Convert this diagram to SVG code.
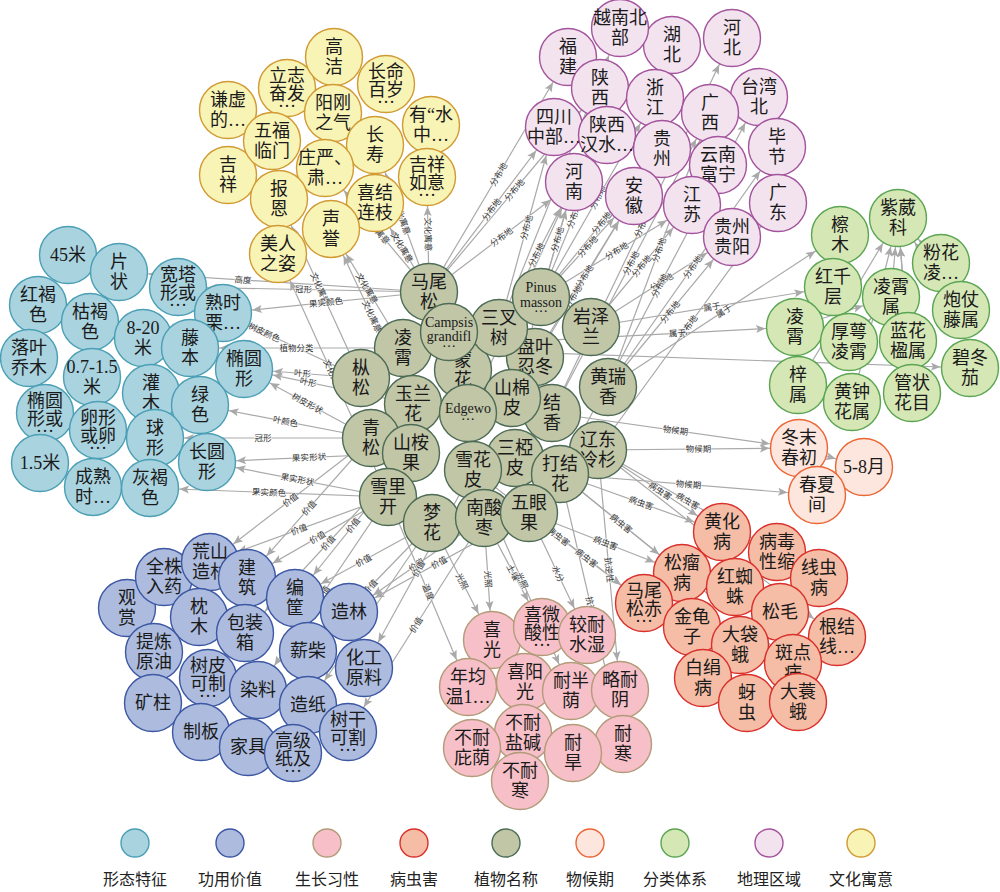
<svg xmlns="http://www.w3.org/2000/svg" width="1000" height="892" viewBox="0 0 1000 892">
<style>
.e{fill:none;stroke:#a9a9a9;stroke-width:1.2}
.ar{marker-end:url(#arw)}
.al{marker-start:url(#arw)}
.el{font-family:"Noto Sans CJK SC",sans-serif;font-size:8.5px;fill:#333;text-anchor:middle;paint-order:stroke;stroke:#fff;stroke-width:1.5px;stroke-opacity:.7}
.t{font-family:"Liberation Serif","Noto Sans CJK SC",serif;font-size:18px;fill:#1a1a1a;text-anchor:middle;dominant-baseline:central}
.t tspan{dominant-baseline:central}
.s{font-size:14px}
circle{stroke-width:1.4}
.c1{fill:#a9d3df;stroke:#4a9fb5}
.c2{fill:#adbcde;stroke:#3c57a3}
.c3{fill:#f7c0c8;stroke:#b39a7a}
.c4{fill:#f5bda6;stroke:#d9302b}
.c5{fill:#c1c6a7;stroke:#4d6b55}
.c6{fill:#fde6dd;stroke:#ec6535}
.c7{fill:#d6e7b6;stroke:#5aa552}
.c8{fill:#f2e3ef;stroke:#a4539d}
.c9{fill:#f8f4b6;stroke:#d19a33}
.lg{font-family:"Noto Sans CJK SC",sans-serif;font-size:16px;fill:#222;text-anchor:middle;dominant-baseline:central}
</style>
<defs>
<marker id="arw" viewBox="-40 -6 40 12" refX="0" refY="0" markerWidth="40" markerHeight="12" markerUnits="userSpaceOnUse" orient="auto-start-reverse">
<path d="M-39,-4 L-29.5,0 L-39,4 L-37,0 Z" fill="#a9a9a9"/>
</marker>
</defs>
<rect width="1000" height="892" fill="#fff"/>
<g id="edges">
<path id="e1" class="e al" d="M427 177 L429 292"/>
<path id="e2" class="e al" d="M375 203 L429 292"/>
<path id="e3" class="e al" d="M331 229 L403 348"/>
<path id="e4" class="e al" d="M279 199 L361 378"/>
<path id="e5" class="e al" d="M325 168 L429 292"/>
<path id="e6" class="e al" d="M375 145 L429 292"/>
<path id="e7" class="e al" d="M278 254 L388 497"/>
<path id="e8" class="e al" d="M331 229 L413 404"/>
<path id="e9" class="e ar" d="M429 292 L554 127"/>
<path id="e10" class="e ar" d="M429 292 L574 182"/>
<path id="e11" class="e ar" d="M429 292 L568 57"/>
<path id="e12" class="e ar" d="M541 297 L574 182"/>
<path id="e13" class="e ar" d="M541 297 L634 196"/>
<path id="e14" class="e ar" d="M541 297 L662 149"/>
<path id="e15" class="e ar" d="M541 297 L607 135"/>
<path id="e16" class="e ar" d="M499 328 L554 127"/>
<path id="e17" class="e ar" d="M591 327 L692 205"/>
<path id="e18" class="e ar" d="M591 327 L732 237"/>
<path id="e19" class="e ar" d="M552 413 L710 113"/>
<path id="e20" class="e ar" d="M608 387 L732 237"/>
<path id="e21" class="e ar" d="M598 450 L778 203"/>
<path id="e22" class="e ar" d="M512 398 L574 182"/>
<path id="e23" class="e ar" d="M535 357 L634 196"/>
<path id="e24" class="e ar" d="M429 292 L600 88"/>
<path id="e25" class="e ar" d="M541 297 L692 205"/>
<path id="e26" class="e ar" d="M552 413 L732 38"/>
<path id="e27" class="e ar" d="M560 474 L759 97"/>
<path id="e28" class="e ar" d="M608 387 L777 147"/>
<path id="e29" class="e ar" d="M499 328 L574 182"/>
<path id="e30" class="e ar" d="M512 398 L634 196"/>
<path id="e31" class="e ar" d="M468 413 L574 182"/>
<path id="e32" class="e ar" d="M499 328 L620 28"/>
<path id="e33" class="e ar" d="M541 297 L655 98"/>
<path id="e34" class="e ar" d="M608 387 L710 113"/>
<path id="e35" class="e ar" d="M608 387 L840 235"/>
<path id="e36" class="e ar" d="M591 327 L833 287"/>
<path id="e37" class="e ar" d="M403 348 L795 327"/>
<path id="e38" class="e ar" d="M403 348 L970 368"/>
<path id="e39" class="e ar" d="M795 327 L891 297"/>
<path id="e40" class="e ar" d="M849 342 L891 297"/>
<path id="e41" class="e ar" d="M891 297 L898 218"/>
<path id="e42" class="e al" d="M898 218 L908 341"/>
<path id="e43" class="e ar" d="M852 402 L898 218"/>
<path id="e44" class="e ar" d="M798 385 L898 218"/>
<path id="e45" class="e al" d="M898 218 L941 263"/>
<path id="e46" class="e al" d="M898 218 L961 310"/>
<path id="e47" class="e al" d="M898 218 L912 393"/>
<path id="e48" class="e ar" d="M598 450 L799 448"/>
<path id="e49" class="e ar" d="M560 474 L817 495"/>
<path id="e50" class="e ar" d="M799 448 L864 467"/>
<path id="e51" class="e ar" d="M552 413 L799 448"/>
<path id="e52" class="e ar" d="M598 450 L722 532"/>
<path id="e53" class="e ar" d="M598 450 L777 552"/>
<path id="e54" class="e ar" d="M560 474 L682 573"/>
<path id="e55" class="e ar" d="M529 513 L644 603"/>
<path id="e56" class="e ar" d="M473 470 L644 603"/>
<path id="e57" class="e ar" d="M529 513 L682 573"/>
<path id="e58" class="e ar" d="M560 474 L722 532"/>
<path id="e59" class="e ar" d="M598 450 L837 637"/>
<path id="e60" class="e ar" d="M560 474 L793 663"/>
<path id="e61" class="e ar" d="M432 523 L492 640"/>
<path id="e62" class="e ar" d="M484 518 L542 627"/>
<path id="e63" class="e ar" d="M529 513 L587 635"/>
<path id="e64" class="e ar" d="M388 497 L468 687"/>
<path id="e65" class="e ar" d="M473 470 L571 691"/>
<path id="e66" class="e ar" d="M598 450 L620 690"/>
<path id="e67" class="e ar" d="M484 518 L492 640"/>
<path id="e68" class="e ar" d="M560 474 L623 744"/>
<path id="e69" class="e al" d="M178 287 L429 292"/>
<path id="e70" class="e al" d="M223 313 L429 292"/>
<path id="e71" class="e al" d="M119 272 L429 292"/>
<path id="e72" class="e al" d="M190 348 L403 348"/>
<path id="e73" class="e al" d="M244 369 L361 378"/>
<path id="e74" class="e al" d="M200 405 L371 438"/>
<path id="e75" class="e al" d="M155 438 L371 438"/>
<path id="e76" class="e al" d="M207 462 L388 497"/>
<path id="e77" class="e al" d="M150 488 L388 497"/>
<path id="e78" class="e al" d="M207 462 L411 453"/>
<path id="e79" class="e al" d="M223 313 L361 378"/>
<path id="e80" class="e al" d="M244 369 L413 404"/>
<path id="e81" class="e al" d="M244 369 L371 438"/>
<path id="e82" class="e al" d="M210 562 L388 497"/>
<path id="e83" class="e al" d="M247 578 L388 497"/>
<path id="e84" class="e al" d="M295 598 L432 523"/>
<path id="e85" class="e al" d="M349 612 L484 518"/>
<path id="e86" class="e al" d="M245 633 L411 453"/>
<path id="e87" class="e al" d="M210 562 L371 438"/>
<path id="e88" class="e al" d="M364 668 L473 470"/>
<path id="e89" class="e al" d="M308 705 L432 523"/>
<path id="e90" class="e al" d="M348 732 L484 518"/>
<path id="e91" class="e al" d="M258 690 L388 497"/>
<path id="e92" class="e al" d="M349 612 L529 513"/>
<path id="e93" class="e al" d="M247 578 L371 438"/>
<path id="e94" class="e al" d="M295 598 L411 453"/>
<path id="e95" class="e al" d="M308 651 L432 523"/>
<text class="el" dy="3"><textPath href="#e1" startOffset="50%">文化寓意</textPath></text>
<text class="el" dy="3"><textPath href="#e2" startOffset="50%">文化寓意</textPath></text>
<text class="el" dy="3"><textPath href="#e3" startOffset="50%">文化寓意</textPath></text>
<text class="el" dy="3"><textPath href="#e4" startOffset="50%">文化寓意</textPath></text>
<text class="el" dy="3"><textPath href="#e5" startOffset="50%">文化寓意</textPath></text>
<text class="el" dy="3"><textPath href="#e6" startOffset="50%">文化寓意</textPath></text>
<text class="el" dy="3"><textPath href="#e7" startOffset="50%">文化寓意</textPath></text>
<text class="el" dy="3"><textPath href="#e8" startOffset="50%">文化寓意</textPath></text>
<text class="el" dy="3"><textPath href="#e9" startOffset="50%">分布地</textPath></text>
<text class="el" dy="3"><textPath href="#e10" startOffset="50%">分布地</textPath></text>
<text class="el" dy="3"><textPath href="#e11" startOffset="50%">分布地</textPath></text>
<text class="el" dy="3"><textPath href="#e12" startOffset="50%">分布地</textPath></text>
<text class="el" dy="3"><textPath href="#e13" startOffset="50%">分布地</textPath></text>
<text class="el" dy="3"><textPath href="#e14" startOffset="50%">分布地</textPath></text>
<text class="el" dy="3"><textPath href="#e15" startOffset="50%">分布地</textPath></text>
<text class="el" dy="3"><textPath href="#e16" startOffset="50%">分布地</textPath></text>
<text class="el" dy="3"><textPath href="#e17" startOffset="50%">分布地</textPath></text>
<text class="el" dy="3"><textPath href="#e18" startOffset="50%">分布地</textPath></text>
<text class="el" dy="3"><textPath href="#e19" startOffset="50%">分布地</textPath></text>
<text class="el" dy="3"><textPath href="#e20" startOffset="50%">分布地</textPath></text>
<text class="el" dy="3"><textPath href="#e21" startOffset="50%">分布地</textPath></text>
<text class="el" dy="3"><textPath href="#e22" startOffset="50%">分布地</textPath></text>
<text class="el" dy="3"><textPath href="#e23" startOffset="50%">分布地</textPath></text>
<text class="el" dy="3"><textPath href="#e24" startOffset="50%">分布地</textPath></text>
<text class="el" dy="3"><textPath href="#e25" startOffset="50%">分布地</textPath></text>
<text class="el" dy="3"><textPath href="#e26" startOffset="50%">分布地</textPath></text>
<text class="el" dy="3"><textPath href="#e27" startOffset="50%">分布地</textPath></text>
<text class="el" dy="3"><textPath href="#e28" startOffset="50%">分布地</textPath></text>
<text class="el" dy="3"><textPath href="#e29" startOffset="50%">分布地</textPath></text>
<text class="el" dy="3"><textPath href="#e30" startOffset="50%">分布地</textPath></text>
<text class="el" dy="3"><textPath href="#e31" startOffset="50%">分布地</textPath></text>
<text class="el" dy="3"><textPath href="#e32" startOffset="50%">分布地</textPath></text>
<text class="el" dy="3"><textPath href="#e33" startOffset="50%">分布地</textPath></text>
<text class="el" dy="3"><textPath href="#e34" startOffset="50%">分布地</textPath></text>
<text class="el" dy="3"><textPath href="#e35" startOffset="50%">属于</textPath></text>
<text class="el" dy="3"><textPath href="#e36" startOffset="50%">属于</textPath></text>
<text class="el" dy="3"><textPath href="#e37" startOffset="70%">属于</textPath></text>
<text class="el" dy="3"><textPath href="#e38" startOffset="70%">属于</textPath></text>
<text class="el" dy="3"><textPath href="#e48" startOffset="50%">物候期</textPath></text>
<text class="el" dy="3"><textPath href="#e49" startOffset="50%">物候期</textPath></text>
<text class="el" dy="3"><textPath href="#e51" startOffset="50%">物候期</textPath></text>
<text class="el" dy="3"><textPath href="#e52" startOffset="50%">病虫害</textPath></text>
<text class="el" dy="3"><textPath href="#e53" startOffset="50%">病虫害</textPath></text>
<text class="el" dy="3"><textPath href="#e54" startOffset="50%">病虫害</textPath></text>
<text class="el" dy="3"><textPath href="#e55" startOffset="50%">病虫害</textPath></text>
<text class="el" dy="3"><textPath href="#e56" startOffset="50%">病虫害</textPath></text>
<text class="el" dy="3"><textPath href="#e57" startOffset="50%">病虫害</textPath></text>
<text class="el" dy="3"><textPath href="#e58" startOffset="50%">病虫害</textPath></text>
<text class="el" dy="3"><textPath href="#e59" startOffset="50%">病虫害</textPath></text>
<text class="el" dy="3"><textPath href="#e60" startOffset="50%">病虫害</textPath></text>
<text class="el" dy="3"><textPath href="#e61" startOffset="50%">光照</textPath></text>
<text class="el" dy="3"><textPath href="#e62" startOffset="50%">土壤</textPath></text>
<text class="el" dy="3"><textPath href="#e63" startOffset="50%">水分</textPath></text>
<text class="el" dy="3"><textPath href="#e64" startOffset="50%">温度</textPath></text>
<text class="el" dy="3"><textPath href="#e65" startOffset="50%">光照</textPath></text>
<text class="el" dy="3"><textPath href="#e66" startOffset="50%">抗逆性</textPath></text>
<text class="el" dy="3"><textPath href="#e67" startOffset="50%">光照</textPath></text>
<text class="el" dy="3"><textPath href="#e68" startOffset="50%">抗逆性</textPath></text>
<text class="el" dy="3"><textPath href="#e69" startOffset="50%">冠形</textPath></text>
<text class="el" dy="3"><textPath href="#e70" startOffset="50%">果实颜色</textPath></text>
<text class="el" dy="3"><textPath href="#e71" startOffset="40%">高度</textPath></text>
<text class="el" dy="3"><textPath href="#e72" startOffset="50%">植物分类</textPath></text>
<text class="el" dy="3"><textPath href="#e73" startOffset="50%">叶形</textPath></text>
<text class="el" dy="3"><textPath href="#e74" startOffset="50%">叶颜色</textPath></text>
<text class="el" dy="3"><textPath href="#e75" startOffset="50%">冠形</textPath></text>
<text class="el" dy="3"><textPath href="#e76" startOffset="50%">果实形状</textPath></text>
<text class="el" dy="3"><textPath href="#e77" startOffset="50%">果实颜色</textPath></text>
<text class="el" dy="3"><textPath href="#e78" startOffset="50%">果实形状</textPath></text>
<text class="el" dy="3"><textPath href="#e79" startOffset="30%">树皮颜色</textPath></text>
<text class="el" dy="3"><textPath href="#e80" startOffset="38%">叶形</textPath></text>
<text class="el" dy="3"><textPath href="#e81" startOffset="50%">树皮形状</textPath></text>
<text class="el" dy="3"><textPath href="#e82" startOffset="50%">价值</textPath></text>
<text class="el" dy="3"><textPath href="#e83" startOffset="50%">价值</textPath></text>
<text class="el" dy="3"><textPath href="#e84" startOffset="50%">价值</textPath></text>
<text class="el" dy="3"><textPath href="#e85" startOffset="50%">价值</textPath></text>
<text class="el" dy="3"><textPath href="#e86" startOffset="50%">价值</textPath></text>
<text class="el" dy="3"><textPath href="#e87" startOffset="50%">价值</textPath></text>
<text class="el" dy="3"><textPath href="#e88" startOffset="50%">价值</textPath></text>
<text class="el" dy="3"><textPath href="#e89" startOffset="50%">价值</textPath></text>
<text class="el" dy="3"><textPath href="#e90" startOffset="50%">价值</textPath></text>
<text class="el" dy="3"><textPath href="#e91" startOffset="50%">价值</textPath></text>
<text class="el" dy="3"><textPath href="#e92" startOffset="50%">价值</textPath></text>
<text class="el" dy="3"><textPath href="#e93" startOffset="50%">价值</textPath></text>
<text class="el" dy="3"><textPath href="#e94" startOffset="50%">价值</textPath></text>
<text class="el" dy="3"><textPath href="#e95" startOffset="50%">价值</textPath></text>
</g>
<g id="nodes">
<g id="y-qianxu"><circle class="c9" cx="228" cy="110" r="28.5"/><text class="t"><tspan x="228" y="100">谦虚</tspan><tspan x="228" y="120">的…</tspan></text></g>
<g id="y-jixiang"><circle class="c9" cx="228" cy="175" r="28.5"/><text class="t"><tspan x="228" y="165">吉</tspan><tspan x="228" y="185">祥</tspan></text></g>
<g id="y-lizhi"><circle class="c9" cx="287" cy="88" r="28.5"/><text class="t"><tspan x="287" y="76">立志</tspan><tspan x="287" y="94">奋发</tspan><tspan x="287" y="101">…</tspan></text></g>
<g id="y-gaojie"><circle class="c9" cx="334" cy="57" r="28.5"/><text class="t"><tspan x="334" y="47">高</tspan><tspan x="334" y="67">洁</tspan></text></g>
<g id="y-changming"><circle class="c9" cx="386" cy="84" r="28.5"/><text class="t"><tspan x="386" y="72">长命</tspan><tspan x="386" y="90">百岁</tspan><tspan x="386" y="97">…</tspan></text></g>
<g id="y-shuizhong"><circle class="c9" cx="431" cy="125" r="28.5"/><text class="t"><tspan x="431" y="115">有“水</tspan><tspan x="431" y="135">中…</tspan></text></g>
<g id="y-wufu"><circle class="c9" cx="272" cy="141" r="28.5"/><text class="t"><tspan x="272" y="131">五福</tspan><tspan x="272" y="151">临门</tspan></text></g>
<g id="y-yanggang"><circle class="c9" cx="333" cy="113" r="28.5"/><text class="t"><tspan x="333" y="103">阳刚</tspan><tspan x="333" y="123">之气</tspan></text></g>
<g id="y-changshou"><circle class="c9" cx="375" cy="145" r="28.5"/><text class="t"><tspan x="375" y="135">长</tspan><tspan x="375" y="155">寿</tspan></text></g>
<g id="y-zhuangyan"><circle class="c9" cx="325" cy="168" r="28.5"/><text class="t"><tspan x="325" y="158">庄严、</tspan><tspan x="325" y="178">肃…</tspan></text></g>
<g id="y-jixiangruyi"><circle class="c9" cx="427" cy="177" r="28.5"/><text class="t"><tspan x="427" y="165">吉祥</tspan><tspan x="427" y="183">如意</tspan><tspan x="427" y="190">…</tspan></text></g>
<g id="y-baoen"><circle class="c9" cx="279" cy="199" r="28.5"/><text class="t"><tspan x="279" y="189">报</tspan><tspan x="279" y="209">恩</tspan></text></g>
<g id="y-xijie"><circle class="c9" cx="375" cy="203" r="28.5"/><text class="t"><tspan x="375" y="193">喜结</tspan><tspan x="375" y="213">连枝</tspan></text></g>
<g id="y-shengyu"><circle class="c9" cx="331" cy="229" r="28.5"/><text class="t"><tspan x="331" y="219">声</tspan><tspan x="331" y="239">誉</tspan></text></g>
<g id="y-meiren"><circle class="c9" cx="278" cy="254" r="28.5"/><text class="t"><tspan x="278" y="244">美人</tspan><tspan x="278" y="264">之姿</tspan></text></g>

<g id="d-hubei"><circle class="c8" cx="672" cy="45" r="28.5"/><text class="t"><tspan x="672" y="35">湖</tspan><tspan x="672" y="55">北</tspan></text></g>
<g id="d-yuenan"><circle class="c8" cx="620" cy="28" r="28.5"/><text class="t"><tspan x="620" y="18">越南北</tspan><tspan x="620" y="38">部</tspan></text></g>
<g id="d-hebei"><circle class="c8" cx="732" cy="38" r="28.5"/><text class="t"><tspan x="732" y="28">河</tspan><tspan x="732" y="48">北</tspan></text></g>
<g id="d-fujian"><circle class="c8" cx="568" cy="57" r="28.5"/><text class="t"><tspan x="568" y="47">福</tspan><tspan x="568" y="67">建</tspan></text></g>
<g id="d-shaanxi"><circle class="c8" cx="600" cy="88" r="28.5"/><text class="t"><tspan x="600" y="78">陕</tspan><tspan x="600" y="98">西</tspan></text></g>
<g id="d-zhejiang"><circle class="c8" cx="655" cy="98" r="28.5"/><text class="t"><tspan x="655" y="88">浙</tspan><tspan x="655" y="108">江</tspan></text></g>
<g id="d-taiwan"><circle class="c8" cx="759" cy="97" r="28.5"/><text class="t"><tspan x="759" y="87">台湾</tspan><tspan x="759" y="107">北</tspan></text></g>
<g id="d-guangxi"><circle class="c8" cx="710" cy="113" r="28.5"/><text class="t"><tspan x="710" y="103">广</tspan><tspan x="710" y="123">西</tspan></text></g>
<g id="d-sichuan"><circle class="c8" cx="554" cy="127" r="28.5"/><text class="t"><tspan x="554" y="117">四川</tspan><tspan x="554" y="137">中部…</tspan></text></g>
<g id="d-hanshui"><circle class="c8" cx="607" cy="135" r="28.5"/><text class="t"><tspan x="607" y="125">陕西</tspan><tspan x="607" y="145">汉水…</tspan></text></g>
<g id="d-guizhou"><circle class="c8" cx="662" cy="149" r="28.5"/><text class="t"><tspan x="662" y="139">贵</tspan><tspan x="662" y="159">州</tspan></text></g>
<g id="d-bijie"><circle class="c8" cx="777" cy="147" r="28.5"/><text class="t"><tspan x="777" y="137">毕</tspan><tspan x="777" y="157">节</tspan></text></g>
<g id="d-funing"><circle class="c8" cx="718" cy="165" r="28.5"/><text class="t"><tspan x="718" y="155">云南</tspan><tspan x="718" y="175">富宁</tspan></text></g>
<g id="d-henan"><circle class="c8" cx="574" cy="182" r="28.5"/><text class="t"><tspan x="574" y="172">河</tspan><tspan x="574" y="192">南</tspan></text></g>
<g id="d-anhui"><circle class="c8" cx="634" cy="196" r="28.5"/><text class="t"><tspan x="634" y="186">安</tspan><tspan x="634" y="206">徽</tspan></text></g>
<g id="d-jiangsu"><circle class="c8" cx="692" cy="205" r="28.5"/><text class="t"><tspan x="692" y="195">江</tspan><tspan x="692" y="215">苏</tspan></text></g>
<g id="d-guangdong"><circle class="c8" cx="778" cy="203" r="28.5"/><text class="t"><tspan x="778" y="193">广</tspan><tspan x="778" y="213">东</tspan></text></g>
<g id="d-guiyang"><circle class="c8" cx="732" cy="237" r="28.5"/><text class="t"><tspan x="732" y="227">贵州</tspan><tspan x="732" y="247">贵阳</tspan></text></g>

<g id="g-chamu"><circle class="c7" cx="840" cy="235" r="28.5"/><text class="t"><tspan x="840" y="225">檫</tspan><tspan x="840" y="245">木</tspan></text></g>
<g id="g-ziweike"><circle class="c7" cx="898" cy="218" r="28.5"/><text class="t"><tspan x="898" y="208">紫葳</tspan><tspan x="898" y="228">科</tspan></text></g>
<g id="g-fenhua"><circle class="c7" cx="941" cy="263" r="28.5"/><text class="t"><tspan x="941" y="253">粉花</tspan><tspan x="941" y="273">凌…</tspan></text></g>
<g id="g-hongqianceng"><circle class="c7" cx="833" cy="287" r="28.5"/><text class="t"><tspan x="833" y="277">红千</tspan><tspan x="833" y="297">层</tspan></text></g>
<g id="g-lingxiaoshu"><circle class="c7" cx="891" cy="297" r="28.5"/><text class="t"><tspan x="891" y="287">凌霄</tspan><tspan x="891" y="307">属</tspan></text></g>
<g id="g-paozhang"><circle class="c7" cx="961" cy="310" r="28.5"/><text class="t"><tspan x="961" y="300">炮仗</tspan><tspan x="961" y="320">藤属</tspan></text></g>
<g id="g-lingxiao"><circle class="c7" cx="795" cy="327" r="28.5"/><text class="t"><tspan x="795" y="317">凌</tspan><tspan x="795" y="337">霄</tspan></text></g>
<g id="g-houe"><circle class="c7" cx="849" cy="342" r="28.5"/><text class="t"><tspan x="849" y="332">厚萼</tspan><tspan x="849" y="352">凌霄</tspan></text></g>
<g id="g-lanhua"><circle class="c7" cx="908" cy="341" r="28.5"/><text class="t"><tspan x="908" y="331">蓝花</tspan><tspan x="908" y="351">楹属</tspan></text></g>
<g id="g-bidongqie"><circle class="c7" cx="970" cy="368" r="28.5"/><text class="t"><tspan x="970" y="358">碧冬</tspan><tspan x="970" y="378">茄</tspan></text></g>
<g id="g-zishu"><circle class="c7" cx="798" cy="385" r="28.5"/><text class="t"><tspan x="798" y="375">梓</tspan><tspan x="798" y="395">属</tspan></text></g>
<g id="g-guanzhuang"><circle class="c7" cx="912" cy="393" r="28.5"/><text class="t"><tspan x="912" y="383">管状</tspan><tspan x="912" y="403">花目</tspan></text></g>
<g id="g-huangzhong"><circle class="c7" cx="852" cy="402" r="28.5"/><text class="t"><tspan x="852" y="392">黄钟</tspan><tspan x="852" y="412">花属</tspan></text></g>

<g id="m-45m"><circle class="c1" cx="68" cy="255" r="28.5"/><text class="t"><tspan x="68" y="255">45米</tspan></text></g>
<g id="m-pianzhuang"><circle class="c1" cx="119" cy="272" r="28.5"/><text class="t"><tspan x="119" y="262">片</tspan><tspan x="119" y="282">状</tspan></text></g>
<g id="m-kuanta"><circle class="c1" cx="178" cy="287" r="28.5"/><text class="t"><tspan x="178" y="275">宽塔</tspan><tspan x="178" y="293">形或</tspan><tspan x="178" y="300">…</tspan></text></g>
<g id="m-honghe"><circle class="c1" cx="38" cy="305" r="28.5"/><text class="t"><tspan x="38" y="295">红褐</tspan><tspan x="38" y="315">色</tspan></text></g>
<g id="m-kuhe"><circle class="c1" cx="90" cy="322" r="28.5"/><text class="t"><tspan x="90" y="312">枯褐</tspan><tspan x="90" y="332">色</tspan></text></g>
<g id="m-shushi"><circle class="c1" cx="223" cy="313" r="28.5"/><text class="t"><tspan x="223" y="303">熟时</tspan><tspan x="223" y="323">栗…</tspan></text></g>
<g id="m-820"><circle class="c1" cx="143" cy="338" r="28.5"/><text class="t"><tspan x="143" y="328">8-20</tspan><tspan x="143" y="348">米</tspan></text></g>
<g id="m-luoye"><circle class="c1" cx="29" cy="358" r="28.5"/><text class="t"><tspan x="29" y="348">落叶</tspan><tspan x="29" y="368">乔木</tspan></text></g>
<g id="m-tengben"><circle class="c1" cx="190" cy="348" r="28.5"/><text class="t"><tspan x="190" y="338">藤</tspan><tspan x="190" y="358">本</tspan></text></g>
<g id="m-tuoyuan"><circle class="c1" cx="244" cy="369" r="28.5"/><text class="t"><tspan x="244" y="359">椭圆</tspan><tspan x="244" y="379">形</tspan></text></g>
<g id="m-0715"><circle class="c1" cx="92" cy="377" r="28.5"/><text class="t"><tspan x="92" y="367">0.7-1.5</tspan><tspan x="92" y="387">米</tspan></text></g>
<g id="m-guanmu"><circle class="c1" cx="151" cy="393" r="28.5"/><text class="t"><tspan x="151" y="383">灌</tspan><tspan x="151" y="403">木</tspan></text></g>
<g id="m-lvse"><circle class="c1" cx="200" cy="405" r="28.5"/><text class="t"><tspan x="200" y="395">绿</tspan><tspan x="200" y="415">色</tspan></text></g>
<g id="m-tuoyuanhuo"><circle class="c1" cx="45" cy="413" r="28.5"/><text class="t"><tspan x="45" y="401">椭圆</tspan><tspan x="45" y="419">形或</tspan><tspan x="45" y="426">…</tspan></text></g>
<g id="m-luanxing"><circle class="c1" cx="98" cy="430" r="28.5"/><text class="t"><tspan x="98" y="418">卵形</tspan><tspan x="98" y="436">或卵</tspan><tspan x="98" y="443">…</tspan></text></g>
<g id="m-qiuxing"><circle class="c1" cx="155" cy="438" r="28.5"/><text class="t"><tspan x="155" y="428">球</tspan><tspan x="155" y="448">形</tspan></text></g>
<g id="m-15m"><circle class="c1" cx="40" cy="463" r="28.5"/><text class="t"><tspan x="40" y="463">1.5米</tspan></text></g>
<g id="m-changyuan"><circle class="c1" cx="207" cy="462" r="28.5"/><text class="t"><tspan x="207" y="452">长圆</tspan><tspan x="207" y="472">形</tspan></text></g>
<g id="m-chengshu"><circle class="c1" cx="93" cy="487" r="28.5"/><text class="t"><tspan x="93" y="477">成熟</tspan><tspan x="93" y="497">时…</tspan></text></g>
<g id="m-huihe"><circle class="c1" cx="150" cy="488" r="28.5"/><text class="t"><tspan x="150" y="478">灰褐</tspan><tspan x="150" y="498">色</tspan></text></g>

<g id="u-guanshang"><circle class="c2" cx="127" cy="608" r="28.5"/><text class="t"><tspan x="127" y="598">观</tspan><tspan x="127" y="618">赏</tspan></text></g>
<g id="u-quanzhu"><circle class="c2" cx="164" cy="577" r="28.5"/><text class="t"><tspan x="164" y="567">全株</tspan><tspan x="164" y="587">入药</tspan></text></g>
<g id="u-huangshan"><circle class="c2" cx="210" cy="562" r="28.5"/><text class="t"><tspan x="210" y="552">荒山</tspan><tspan x="210" y="572">造林</tspan></text></g>
<g id="u-jianzhu"><circle class="c2" cx="247" cy="578" r="28.5"/><text class="t"><tspan x="247" y="568">建</tspan><tspan x="247" y="588">筑</tspan></text></g>
<g id="u-zhenmu"><circle class="c2" cx="199" cy="617" r="28.5"/><text class="t"><tspan x="199" y="607">枕</tspan><tspan x="199" y="627">木</tspan></text></g>
<g id="u-biankuang"><circle class="c2" cx="295" cy="598" r="28.5"/><text class="t"><tspan x="295" y="588">编</tspan><tspan x="295" y="608">筐</tspan></text></g>
<g id="u-zaolin"><circle class="c2" cx="349" cy="612" r="28.5"/><text class="t"><tspan x="349" y="612">造林</tspan></text></g>
<g id="u-baozhuang"><circle class="c2" cx="245" cy="633" r="28.5"/><text class="t"><tspan x="245" y="623">包装</tspan><tspan x="245" y="643">箱</tspan></text></g>
<g id="u-tilian"><circle class="c2" cx="154" cy="652" r="28.5"/><text class="t"><tspan x="154" y="642">提炼</tspan><tspan x="154" y="662">原油</tspan></text></g>
<g id="u-xinchai"><circle class="c2" cx="308" cy="651" r="28.5"/><text class="t"><tspan x="308" y="651">薪柴</tspan></text></g>
<g id="u-huagong"><circle class="c2" cx="364" cy="668" r="28.5"/><text class="t"><tspan x="364" y="658">化工</tspan><tspan x="364" y="678">原料</tspan></text></g>
<g id="u-shupi"><circle class="c2" cx="208" cy="678" r="28.5"/><text class="t"><tspan x="208" y="666">树皮</tspan><tspan x="208" y="684">可制</tspan><tspan x="208" y="691">…</tspan></text></g>
<g id="u-kuangzhu"><circle class="c2" cx="153" cy="703" r="28.5"/><text class="t"><tspan x="153" y="703">矿柱</tspan></text></g>
<g id="u-ranliao"><circle class="c2" cx="258" cy="690" r="28.5"/><text class="t"><tspan x="258" y="690">染料</tspan></text></g>
<g id="u-zaozhi"><circle class="c2" cx="308" cy="705" r="28.5"/><text class="t"><tspan x="308" y="705">造纸</tspan></text></g>
<g id="u-shugan"><circle class="c2" cx="348" cy="732" r="28.5"/><text class="t"><tspan x="348" y="720">树干</tspan><tspan x="348" y="738">可割</tspan><tspan x="348" y="745">…</tspan></text></g>
<g id="u-zhiban"><circle class="c2" cx="201" cy="732" r="28.5"/><text class="t"><tspan x="201" y="732">制板</tspan></text></g>
<g id="u-jiaju"><circle class="c2" cx="248" cy="747" r="28.5"/><text class="t"><tspan x="248" y="747">家具</tspan></text></g>
<g id="u-gaoji"><circle class="c2" cx="293" cy="753" r="28.5"/><text class="t"><tspan x="293" y="741">高级</tspan><tspan x="293" y="759">纸及</tspan><tspan x="293" y="766">…</tspan></text></g>

<g id="h-xiguang"><circle class="c3" cx="492" cy="640" r="28.5"/><text class="t"><tspan x="492" y="630">喜</tspan><tspan x="492" y="650">光</tspan></text></g>
<g id="h-xiweisuan"><circle class="c3" cx="542" cy="627" r="28.5"/><text class="t"><tspan x="542" y="615">喜微</tspan><tspan x="542" y="633">酸性</tspan><tspan x="542" y="640">…</tspan></text></g>
<g id="h-jiaonai"><circle class="c3" cx="587" cy="635" r="28.5"/><text class="t"><tspan x="587" y="625">较耐</tspan><tspan x="587" y="645">水湿</tspan></text></g>
<g id="h-nianjun"><circle class="c3" cx="468" cy="687" r="28.5"/><text class="t"><tspan x="468" y="677">年均</tspan><tspan x="468" y="697">温1…</tspan></text></g>
<g id="h-xiyang"><circle class="c3" cx="525" cy="682" r="28.5"/><text class="t"><tspan x="525" y="672">喜阳</tspan><tspan x="525" y="692">光</tspan></text></g>
<g id="h-naiban"><circle class="c3" cx="571" cy="691" r="28.5"/><text class="t"><tspan x="571" y="681">耐半</tspan><tspan x="571" y="701">荫</tspan></text></g>
<g id="h-lueai"><circle class="c3" cx="620" cy="690" r="28.5"/><text class="t"><tspan x="620" y="680">略耐</tspan><tspan x="620" y="700">阴</tspan></text></g>
<g id="h-yanjian"><circle class="c3" cx="523" cy="733" r="28.5"/><text class="t"><tspan x="523" y="723">不耐</tspan><tspan x="523" y="743">盐碱</tspan></text></g>
<g id="h-naihan"><circle class="c3" cx="623" cy="744" r="28.5"/><text class="t"><tspan x="623" y="734">耐</tspan><tspan x="623" y="754">寒</tspan></text></g>
<g id="h-biyin"><circle class="c3" cx="472" cy="748" r="28.5"/><text class="t"><tspan x="472" y="738">不耐</tspan><tspan x="472" y="758">庇荫</tspan></text></g>
<g id="h-naihan2"><circle class="c3" cx="573" cy="753" r="28.5"/><text class="t"><tspan x="573" y="743">耐</tspan><tspan x="573" y="763">旱</tspan></text></g>
<g id="h-bunaihan"><circle class="c3" cx="520" cy="781" r="28.5"/><text class="t"><tspan x="520" y="771">不耐</tspan><tspan x="520" y="791">寒</tspan></text></g>

<g id="b-huanghua"><circle class="c4" cx="722" cy="532" r="28.5"/><text class="t"><tspan x="722" y="522">黄化</tspan><tspan x="722" y="542">病</tspan></text></g>
<g id="b-bingdu"><circle class="c4" cx="777" cy="552" r="28.5"/><text class="t"><tspan x="777" y="542">病毒</tspan><tspan x="777" y="562">性缩</tspan></text></g>
<g id="b-songliu"><circle class="c4" cx="682" cy="573" r="28.5"/><text class="t"><tspan x="682" y="563">松瘤</tspan><tspan x="682" y="583">病</tspan></text></g>
<g id="b-xianchong"><circle class="c4" cx="819" cy="578" r="28.5"/><text class="t"><tspan x="819" y="568">线虫</tspan><tspan x="819" y="588">病</tspan></text></g>
<g id="b-hongzhizhu"><circle class="c4" cx="735" cy="587" r="28.5"/><text class="t"><tspan x="735" y="577">红蜘</tspan><tspan x="735" y="597">蛛</tspan></text></g>
<g id="b-chiku"><circle class="c4" cx="644" cy="603" r="28.5"/><text class="t"><tspan x="644" y="591">马尾</tspan><tspan x="644" y="609">松赤</tspan><tspan x="644" y="616">…</tspan></text></g>
<g id="b-songmao"><circle class="c4" cx="780" cy="612" r="28.5"/><text class="t"><tspan x="780" y="612">松毛</tspan></text></g>
<g id="b-jinguizi"><circle class="c4" cx="692" cy="627" r="28.5"/><text class="t"><tspan x="692" y="617">金龟</tspan><tspan x="692" y="637">子</tspan></text></g>
<g id="b-genjie"><circle class="c4" cx="837" cy="637" r="28.5"/><text class="t"><tspan x="837" y="627">根结</tspan><tspan x="837" y="647">线…</tspan></text></g>
<g id="b-daidai"><circle class="c4" cx="740" cy="645" r="28.5"/><text class="t"><tspan x="740" y="635">大袋</tspan><tspan x="740" y="655">蛾</tspan></text></g>
<g id="b-bandian"><circle class="c4" cx="793" cy="663" r="28.5"/><text class="t"><tspan x="793" y="653">斑点</tspan><tspan x="793" y="673">病</tspan></text></g>
<g id="b-baijuan"><circle class="c4" cx="703" cy="678" r="28.5"/><text class="t"><tspan x="703" y="668">白绢</tspan><tspan x="703" y="688">病</tspan></text></g>
<g id="b-yachong"><circle class="c4" cx="747" cy="703" r="28.5"/><text class="t"><tspan x="747" y="693">蚜</tspan><tspan x="747" y="713">虫</tspan></text></g>
<g id="b-dasuo"><circle class="c4" cx="798" cy="702" r="28.5"/><text class="t"><tspan x="798" y="692">大蓑</tspan><tspan x="798" y="712">蛾</tspan></text></g>

<g id="w-dongmo"><circle class="c6" cx="799" cy="448" r="28.5"/><text class="t"><tspan x="799" y="438">冬末</tspan><tspan x="799" y="458">春初</tspan></text></g>
<g id="w-58"><circle class="c6" cx="864" cy="467" r="28.5"/><text class="t"><tspan x="864" y="467">5-8月</tspan></text></g>
<g id="w-chunxia"><circle class="c6" cx="817" cy="495" r="28.5"/><text class="t"><tspan x="817" y="485">春夏</tspan><tspan x="817" y="505">间</tspan></text></g>

<g id="p-menghua2"><circle class="c5" cx="463" cy="370" r="28.5"/><text class="t"><tspan x="463" y="360">蒙</tspan><tspan x="463" y="380">花</tspan></text></g>
<g id="p-panye"><circle class="c5" cx="535" cy="357" r="28.5"/><text class="t"><tspan x="535" y="347">盘叶</tspan><tspan x="535" y="367">忍冬</tspan></text></g>
<g id="p-sancha"><circle class="c5" cx="499" cy="328" r="28.5"/><text class="t"><tspan x="499" y="318">三叉</tspan><tspan x="499" y="338">树</tspan></text></g>
<g id="p-pinus"><circle class="c5" cx="541" cy="297" r="28.5"/><text class="t s"><tspan x="541" y="287">Pinus</tspan><tspan x="541" y="302">masson</tspan><tspan x="541" y="307">…</tspan></text></g>
<g id="p-maweisong"><circle class="c5" cx="429" cy="292" r="28.5"/><text class="t"><tspan x="429" y="282">马尾</tspan><tspan x="429" y="302">松</tspan></text></g>
<g id="p-lingxiao"><circle class="c5" cx="403" cy="348" r="28.5"/><text class="t"><tspan x="403" y="338">凌</tspan><tspan x="403" y="358">霄</tspan></text></g>
<g id="p-campsis"><circle class="c5" cx="449" cy="332" r="28.5"/><text class="t s"><tspan x="449" y="322">Campsis</tspan><tspan x="449" y="336">grandifl</tspan><tspan x="449" y="342">…</tspan></text></g>
<g id="p-yanzelan"><circle class="c5" cx="591" cy="327" r="28.5"/><text class="t"><tspan x="591" y="317">岩泽</tspan><tspan x="591" y="337">兰</tspan></text></g>
<g id="p-congsong"><circle class="c5" cx="361" cy="378" r="28.5"/><text class="t"><tspan x="361" y="368">枞</tspan><tspan x="361" y="388">松</tspan></text></g>
<g id="p-huangruixiang"><circle class="c5" cx="608" cy="387" r="28.5"/><text class="t"><tspan x="608" y="377">黄瑞</tspan><tspan x="608" y="397">香</tspan></text></g>
<g id="p-jiexiang"><circle class="c5" cx="552" cy="413" r="28.5"/><text class="t"><tspan x="552" y="403">结</tspan><tspan x="552" y="423">香</tspan></text></g>
<g id="p-shanmianpi"><circle class="c5" cx="512" cy="398" r="28.5"/><text class="t"><tspan x="512" y="388">山棉</tspan><tspan x="512" y="408">皮</tspan></text></g>
<g id="p-yulanhua"><circle class="c5" cx="413" cy="404" r="28.5"/><text class="t"><tspan x="413" y="394">玉兰</tspan><tspan x="413" y="414">花</tspan></text></g>
<g id="p-edgewo"><circle class="c5" cx="468" cy="413" r="28.5"/><text class="t s"><tspan x="468" y="408">Edgewo</tspan><tspan x="468" y="415">…</tspan></text></g>
<g id="p-qingsong"><circle class="c5" cx="371" cy="438" r="28.5"/><text class="t"><tspan x="371" y="428">青</tspan><tspan x="371" y="448">松</tspan></text></g>
<g id="p-shananguo"><circle class="c5" cx="411" cy="453" r="28.5"/><text class="t"><tspan x="411" y="443">山桉</tspan><tspan x="411" y="463">果</tspan></text></g>
<g id="p-sanyapi"><circle class="c5" cx="515" cy="458" r="28.5"/><text class="t"><tspan x="515" y="448">三椏</tspan><tspan x="515" y="468">皮</tspan></text></g>
<g id="p-liaodong"><circle class="c5" cx="598" cy="450" r="28.5"/><text class="t"><tspan x="598" y="440">辽东</tspan><tspan x="598" y="460">冷杉</tspan></text></g>
<g id="p-xuehuapi"><circle class="c5" cx="473" cy="470" r="28.5"/><text class="t"><tspan x="473" y="460">雪花</tspan><tspan x="473" y="480">皮</tspan></text></g>
<g id="p-dajiehua"><circle class="c5" cx="560" cy="474" r="28.5"/><text class="t"><tspan x="560" y="464">打结</tspan><tspan x="560" y="484">花</tspan></text></g>
<g id="p-xuelikai"><circle class="c5" cx="388" cy="497" r="28.5"/><text class="t"><tspan x="388" y="487">雪里</tspan><tspan x="388" y="507">开</tspan></text></g>
<g id="p-menghua"><circle class="c5" cx="432" cy="523" r="28.5"/><text class="t"><tspan x="432" y="513">梦</tspan><tspan x="432" y="533">花</tspan></text></g>
<g id="p-nansuanzao"><circle class="c5" cx="484" cy="518" r="28.5"/><text class="t"><tspan x="484" y="508">南酸</tspan><tspan x="484" y="528">枣</tspan></text></g>
<g id="p-wuyanguo"><circle class="c5" cx="529" cy="513" r="28.5"/><text class="t"><tspan x="529" y="503">五眼</tspan><tspan x="529" y="523">果</tspan></text></g>
</g>
<g id="legend">
<circle class="c1" cx="135" cy="843" r="14"/><text class="lg" x="135" y="878">形态特征</text>
<circle class="c2" cx="230" cy="843" r="14"/><text class="lg" x="230" y="878">功用价值</text>
<circle class="c3" cx="327" cy="843" r="14"/><text class="lg" x="327" y="878">生长习性</text>
<circle class="c4" cx="414" cy="843" r="14"/><text class="lg" x="414" y="878">病虫害</text>
<circle class="c5" cx="506" cy="843" r="14"/><text class="lg" x="506" y="878">植物名称</text>
<circle class="c6" cx="590" cy="843" r="14"/><text class="lg" x="590" y="878">物候期</text>
<circle class="c7" cx="675" cy="843" r="14"/><text class="lg" x="675" y="878">分类体系</text>
<circle class="c8" cx="769" cy="843" r="14"/><text class="lg" x="769" y="878">地理区域</text>
<circle class="c9" cx="861" cy="843" r="14"/><text class="lg" x="861" y="878">文化寓意</text>
</g>
</svg>
